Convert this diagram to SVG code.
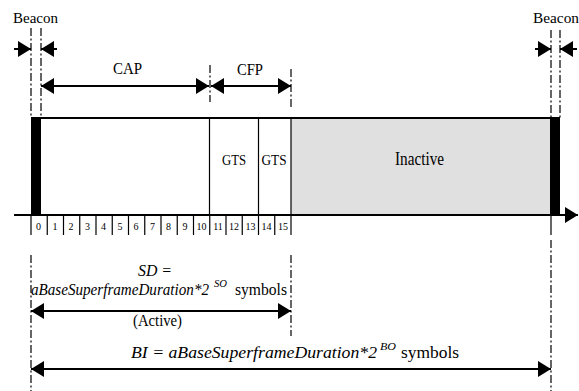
<svg xmlns="http://www.w3.org/2000/svg" width="579" height="391" viewBox="0 0 579 391">
<style>
text{font-family:"Liberation Serif","Times New Roman",serif;fill:#000}
.lbl{font-size:15px}
.big{font-size:17px}
.num{font-size:10px;text-anchor:middle}
.it{font-style:italic;font-size:16px}
.up{font-size:16px}
.sup{font-style:italic;font-size:10px}
.rm{font-style:normal}
.dd{stroke:#000;stroke-width:1.2;stroke-dasharray:8,2.5,2,2.5;fill:none}
.sh{stroke:#000;stroke-width:2;fill:none}
.th{stroke:#000;stroke-width:1.2;fill:none}
</style>
<defs>
<marker id="ah" markerUnits="userSpaceOnUse" markerWidth="14" markerHeight="16" refX="13" refY="8" orient="auto-start-reverse">
<path d="M0,0 L13,8 L0,16 z" fill="#000"/>
</marker>
</defs>
<rect width="579" height="391" fill="#fff"/>

<g id="superframe">
<rect x="291" y="118" width="259" height="97" fill="#e0e0e0"/>
<line x1="31" y1="118" x2="560" y2="118" class="sh"/>
<rect x="31" y="118" width="10" height="97" fill="#000"/>
<rect x="550" y="118" width="10" height="97" fill="#000"/>
<line x1="209.5" y1="118" x2="209.5" y2="215" class="th"/>
<line x1="258.5" y1="118" x2="258.5" y2="215" class="th"/>
<line x1="291" y1="118" x2="291" y2="215" class="th"/>
</g>

<g id="gts1"><text class="lbl" x="234" y="165" text-anchor="middle" textLength="24" lengthAdjust="spacingAndGlyphs">GTS</text></g>
<g id="gts2"><text class="lbl" x="274" y="165" text-anchor="middle" textLength="25" lengthAdjust="spacingAndGlyphs">GTS</text></g>
<g id="inactive"><text x="395" y="165" font-size="19" textLength="49" lengthAdjust="spacingAndGlyphs">Inactive</text></g>

<g id="axis">
<line x1="14" y1="215" x2="578" y2="215" class="sh" marker-end="url(#ah)"/>
<g class="th">
<line x1="31" y1="215" x2="31" y2="235"/>
<line x1="47.25" y1="215" x2="47.25" y2="235"/>
<line x1="63.5" y1="215" x2="63.5" y2="235"/>
<line x1="79.75" y1="215" x2="79.75" y2="235"/>
<line x1="96" y1="215" x2="96" y2="235"/>
<line x1="112.25" y1="215" x2="112.25" y2="235"/>
<line x1="128.5" y1="215" x2="128.5" y2="235"/>
<line x1="144.75" y1="215" x2="144.75" y2="235"/>
<line x1="161" y1="215" x2="161" y2="235"/>
<line x1="177.25" y1="215" x2="177.25" y2="235"/>
<line x1="193.5" y1="215" x2="193.5" y2="235"/>
<line x1="209.75" y1="215" x2="209.75" y2="235"/>
<line x1="226" y1="215" x2="226" y2="235"/>
<line x1="242.25" y1="215" x2="242.25" y2="235"/>
<line x1="258.5" y1="215" x2="258.5" y2="235"/>
<line x1="274.75" y1="215" x2="274.75" y2="235"/>
<line x1="291" y1="215" x2="291" y2="235"/>
<line x1="551" y1="215" x2="551" y2="235"/>
</g>
<text class="num" x="38.5" y="230">0</text>
<text class="num" x="55" y="230">1</text>
<text class="num" x="71" y="230">2</text>
<text class="num" x="87.5" y="230">3</text>
<text class="num" x="103.5" y="230">4</text>
<text class="num" x="120" y="230">5</text>
<text class="num" x="136" y="230">6</text>
<text class="num" x="152.5" y="230">7</text>
<text class="num" x="168.5" y="230">8</text>
<text class="num" x="185" y="230">9</text>
<text class="num" x="201.5" y="230">10</text>
<text class="num" x="218" y="230">11</text>
<text class="num" x="234" y="230">12</text>
<text class="num" x="250.5" y="230">13</text>
<text class="num" x="266.5" y="230">14</text>
<text class="num" x="283" y="230">15</text>
</g>

<g id="beacon-left">
<text class="lbl" x="13" y="23" textLength="45" lengthAdjust="spacingAndGlyphs">Beacon</text>
</g>
<g id="beacon-right">
<text class="lbl" x="533" y="23" textLength="46" lengthAdjust="spacingAndGlyphs">Beacon</text>
</g>
<g id="cap"><text class="big" x="113" y="74" textLength="29" lengthAdjust="spacingAndGlyphs">CAP</text></g>
<g id="cfp"><text class="big" x="237" y="75" textLength="26" lengthAdjust="spacingAndGlyphs">CFP</text></g>

<g id="sd-label">
<text class="it" x="138" y="276" font-size="18" textLength="34" lengthAdjust="spacingAndGlyphs">SD =</text>
<text class="it" x="31" y="295"><tspan textLength="178" lengthAdjust="spacingAndGlyphs">aBaseSuperframeDuration*2</tspan><tspan x="214" dy="-8" font-size="10" textLength="13" lengthAdjust="spacingAndGlyphs">SO</tspan><tspan class="rm" x="235" dy="8" textLength="52" lengthAdjust="spacingAndGlyphs">symbols</tspan></text>
<text class="up" x="133" y="326" font-size="18" textLength="49" lengthAdjust="spacingAndGlyphs">(Active)</text>
</g>
<g id="bi-label">
<text class="it" x="131" y="358" font-size="17"><tspan textLength="246" lengthAdjust="spacingAndGlyphs">BI = aBaseSuperframeDuration*2</tspan><tspan x="380" dy="-8" font-size="10" textLength="16" lengthAdjust="spacingAndGlyphs">BO</tspan><tspan class="rm" x="401" dy="8" textLength="58" lengthAdjust="spacingAndGlyphs">symbols</tspan></text>
</g>

<g id="connectors">
<line x1="31" y1="28" x2="31" y2="118" class="dd"/>
<line x1="41" y1="28" x2="41" y2="118" class="dd"/>
<line x1="551" y1="30" x2="551" y2="118" class="dd"/>
<line x1="560" y1="30" x2="560" y2="118" class="dd"/>
<line x1="210" y1="65" x2="210" y2="102" class="dd"/>
<line x1="291" y1="69" x2="291" y2="107" class="dd"/>
<line x1="31" y1="255" x2="31" y2="391" class="dd"/>
<line x1="291" y1="255" x2="291" y2="336" class="dd"/>
<line x1="551" y1="240" x2="551" y2="391" class="dd"/>

<line x1="14" y1="49" x2="31" y2="49" class="sh" marker-end="url(#ah)"/>
<line x1="57" y1="49" x2="41" y2="49" class="sh" marker-end="url(#ah)"/>
<line x1="535" y1="49" x2="551" y2="49" class="sh" marker-end="url(#ah)"/>
<line x1="577" y1="49" x2="560" y2="49" class="sh" marker-end="url(#ah)"/>

<line x1="41" y1="86" x2="209" y2="86" class="sh" marker-start="url(#ah)" marker-end="url(#ah)"/>
<line x1="211" y1="86" x2="291" y2="86" class="sh" marker-start="url(#ah)" marker-end="url(#ah)"/>
<line x1="31" y1="311" x2="291" y2="311" class="sh" marker-start="url(#ah)" marker-end="url(#ah)"/>
<line x1="31" y1="369" x2="551" y2="369" class="sh" marker-start="url(#ah)" marker-end="url(#ah)"/>
</g>
</svg>
